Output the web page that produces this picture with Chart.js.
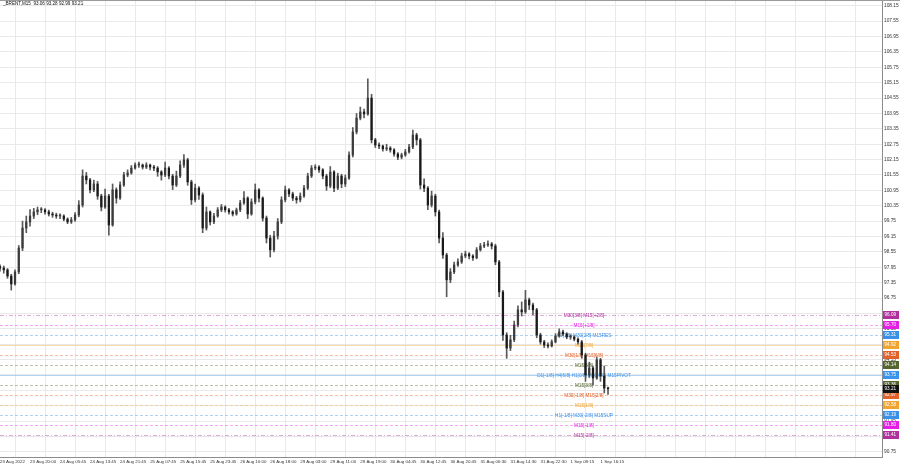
<!DOCTYPE html>
<html>
<head>
<meta charset="utf-8">
<script src="https://cdn.jsdelivr.net/npm/chart.js@4.4.0/dist/chart.umd.min.js"></script>
<style>
  html, body { margin: 0; padding: 0; background: #fff; }
</style>
</head>
<body>
<canvas id="chart" width="900" height="468"></canvas>
<script>
// _BRENT M15 candles, one candle here ~ one hour of the original chart
const symbolTitle = '_BRENT,M15  93.06 93.28 92.99 93.21';

const timeLabels = [
    '23 Aug 2022', '23 Aug 20:00', '24 Aug 05:45', '24 Aug 13:45', '24 Aug 21:45',
    '25 Aug 07:45', '25 Aug 15:45', '25 Aug 23:45', '26 Aug 10:00', '26 Aug 18:00',
    '29 Aug 03:00', '29 Aug 11:00', '29 Aug 19:00', '30 Aug 04:45', '30 Aug 12:45',
    '30 Aug 20:45', '31 Aug 06:30', '31 Aug 14:30', '31 Aug 22:30', '1 Sep 08:15', '1 Sep 16:15'
];

const priceTicks = [
    108.15, 107.55, 106.95, 106.35, 105.75, 105.15, 104.55, 103.95, 103.35, 102.75,
    102.15, 101.55, 100.95, 100.35, 99.75, 99.15, 98.55, 97.95, 97.35, 96.75,
    96.15, 95.55, 94.95, 94.35, 93.75, 93.15, 92.55, 91.95, 91.35, 90.75
];

const firstOpen = 97.98;
const closes = [
    97.92, 97.85, 97.61, 97.30, 97.77, 98.70, 99.48, 99.72, 99.95, 100.11,
    100.19, 100.19, 100.11, 100.03, 99.99, 99.95, 99.95, 99.83, 99.72, 99.80,
    99.99, 100.38, 101.51, 101.36, 100.97, 101.20, 100.73, 100.30, 100.73, 99.60,
    100.97, 100.65, 101.16, 101.55, 101.63, 101.82, 101.94, 101.94, 101.86, 101.94,
    101.86, 101.82, 101.67, 101.55, 101.82, 101.51, 101.16, 101.51, 101.94, 102.14,
    101.28, 100.58, 101.04, 100.77, 99.48, 100.11, 99.72, 99.95, 100.19, 100.30,
    100.19, 100.11, 100.03, 100.19, 100.46, 100.65, 100.03, 100.50, 100.97, 100.65,
    99.87, 99.09, 98.63, 99.17, 99.72, 100.58, 100.97, 100.81, 100.65, 100.58,
    100.73, 101.04, 101.51, 101.82, 101.86, 101.75, 101.51, 101.12, 101.67, 101.04,
    101.51, 101.20, 101.43, 102.33, 103.23, 103.77, 104.01, 103.93, 104.55, 102.92,
    102.72, 102.68, 102.57, 102.60, 102.53, 102.37, 102.25, 102.33, 102.45, 102.64,
    103.11, 102.92, 101.16, 101.04, 100.38, 100.73, 100.11, 99.09, 98.43, 97.46,
    97.77, 98.04, 98.16, 98.39, 98.47, 98.39, 98.32, 98.63, 98.78, 98.82,
    98.86, 98.78, 98.16, 96.99, 95.31, 94.80, 95.12, 95.70, 96.29, 96.21,
    96.68, 96.48, 96.29, 95.31, 95.04, 94.92, 94.88, 95.04, 95.27, 95.43,
    95.35, 95.23, 95.23, 95.15, 95.04, 94.53, 93.75, 94.02, 93.63, 94.34,
    93.71, 93.24, 93.21
];
const highs = [
    98.05, 98.00, 97.90, 97.68, 97.85, 98.80, 99.75, 99.95, 100.20, 100.25,
    100.30, 100.28, 100.24, 100.18, 100.10, 100.06, 100.04, 100.00, 99.88, 99.90,
    100.08, 100.55, 101.75, 101.65, 101.42, 101.35, 101.30, 100.80, 101.00, 100.80,
    101.20, 101.05, 101.28, 101.65, 101.75, 101.92, 102.02, 102.05, 101.98, 102.03,
    101.98, 101.93, 101.88, 101.72, 102.05, 101.88, 101.58, 101.70, 102.10, 102.35,
    102.20, 101.35, 101.20, 101.10, 100.85, 100.30, 100.15, 100.05, 100.28, 100.40,
    100.35, 100.25, 100.16, 100.26, 100.56, 100.90, 100.70, 100.62, 101.20, 101.02,
    100.70, 99.95, 99.20, 99.35, 99.85, 100.70, 101.12, 101.02, 100.88, 100.72,
    100.85, 101.15, 101.62, 101.92, 101.95, 101.92, 101.80, 101.58, 101.88, 101.72,
    101.62, 101.58, 101.55, 102.45, 103.40, 103.95, 104.20, 104.12, 105.30, 104.70,
    102.98, 102.80, 102.72, 102.75, 102.66, 102.58, 102.42, 102.40, 102.55, 102.75,
    103.30, 103.18, 102.98, 101.40, 101.10, 100.92, 100.80, 100.18, 99.30, 98.50,
    97.90, 98.15, 98.28, 98.50, 98.58, 98.52, 98.45, 98.72, 98.88, 98.92,
    98.98, 98.92, 98.85, 98.22, 97.05, 95.40, 95.30, 95.85, 96.45, 96.60,
    97.05, 96.75, 96.55, 96.35, 95.38, 95.10, 95.00, 95.12, 95.36, 95.55,
    95.50, 95.40, 95.32, 95.28, 95.20, 95.10, 94.60, 94.25, 94.10, 94.45,
    94.40, 94.10, 93.28
];
const lows = [
    97.80, 97.72, 97.52, 97.06, 97.25, 97.70, 98.60, 99.30, 99.55, 99.85,
    100.00, 100.08, 100.02, 99.95, 99.90, 99.86, 99.85, 99.76, 99.65, 99.66,
    99.74, 99.92, 100.30, 101.20, 100.85, 100.90, 100.60, 100.15, 100.25, 99.20,
    99.55, 100.45, 100.60, 101.10, 101.48, 101.58, 101.78, 101.85, 101.78, 101.80,
    101.75, 101.72, 101.50, 101.35, 101.48, 101.40, 100.98, 101.10, 101.45, 101.85,
    101.15, 100.40, 100.50, 100.60, 99.30, 99.40, 99.60, 99.65, 99.90, 100.12,
    100.10, 100.02, 99.95, 99.98, 100.12, 100.40, 99.85, 99.98, 100.42, 100.50,
    99.75, 98.90, 98.35, 98.55, 99.05, 99.65, 100.50, 100.70, 100.55, 100.45,
    100.50, 100.68, 100.98, 101.45, 101.75, 101.65, 101.40, 100.95, 101.05, 100.90,
    100.98, 101.05, 101.10, 101.38, 102.25, 103.15, 103.70, 103.78, 103.88, 102.80,
    102.62, 102.58, 102.48, 102.50, 102.44, 102.28, 102.15, 102.18, 102.28, 102.40,
    102.58, 102.72, 101.00, 100.90, 100.20, 100.30, 99.95, 98.90, 98.30, 96.80,
    97.35, 97.70, 97.98, 98.10, 98.32, 98.28, 98.22, 98.28, 98.58, 98.72,
    98.76, 98.66, 98.05, 96.80, 95.10, 94.40, 94.70, 95.05, 95.62, 96.05,
    96.15, 96.30, 96.10, 95.20, 94.95, 94.82, 94.80, 94.84, 95.00, 95.22,
    95.28, 95.16, 95.14, 95.08, 94.95, 94.40, 93.50, 93.65, 93.35, 93.58,
    93.50, 93.05, 92.99
];
const lastPrice = 93.21;

// Murrey math levels drawn by the indicator
const levelPrices = [96.09, 95.70, 95.31, 94.92, 94.53, 94.14, 93.75, 93.36, 92.97, 92.58, 92.19, 91.80, 91.41];
const levelNames = [
    'M30[3/8] M15[+2/8]',
    'M15[+1/8]',
    'H1[1/8] M30[2/8] M15RES',
    'M15[7/8]',
    'M30[1/8] M15[6/8]',
    'M15[5/8]',
    'D1[-1/8] H4[6/8] H1[0/8] M30[0/8] M15PIVOT',
    'M15[3/8]',
    'M30[-1/8] M15[2/8]',
    'M15[1/8]',
    'H1[-1/8] M30[-2/8] M15SUP',
    'M15[-1/8]',
    'M15[-2/8]'
];
const levelColors = ['#b0309e', '#e41ee4', '#3a90e6', '#f2a430', '#e4622a', '#55652f', '#3a93ec',
    '#55652f', '#e4622a', '#f2a430', '#3a90e6', '#e41ee4', '#b0309e'];
const levelDash = [[4, 2, 1, 2], [3, 2], [3, 2], [], [3, 2], [3, 2], [], [3, 2], [3, 2], [3, 2], [3, 2], [3, 2], [4, 2, 1, 2]];

const FONT = "'Liberation Sans', Arial, sans-serif";
const BARS_PER_LABEL = 8;

const opens = closes.map((c, i) => i === 0 ? firstOpen : closes[i - 1]);
const wickData = closes.map((c, i) => ({ x: i, y: [lows[i], highs[i]] }));
const bodyData = closes.map((c, i) => ({ x: i, y: [opens[i], c] }));
const bodyColors = closes.map((c, i) => c >= opens[i] ? '#3c3c3c' : '#1a1a1a');

const levelsPlugin = {
    id: 'levels',
    beforeDatasetsDraw(chart) {
        const { ctx, chartArea } = chart;
        const y = chart.scales.y;
        ctx.save();
        levelPrices.forEach((p, i) => {
            const py = Math.round(y.getPixelForValue(p)) + 0.5;
            ctx.globalAlpha = 0.4;
            ctx.strokeStyle = levelColors[i];
            ctx.lineWidth = 1;
            ctx.setLineDash(levelDash[i]);
            ctx.beginPath();
            ctx.moveTo(chartArea.left, py);
            ctx.lineTo(chartArea.right, py);
            ctx.stroke();
            ctx.globalAlpha = 1;
            ctx.fillStyle = levelColors[i];
            ctx.font = '4.7px ' + FONT;
            ctx.textAlign = 'center';
            ctx.textBaseline = 'middle';
            ctx.fillText(levelNames[i], 584, py);
        });
        ctx.setLineDash([]);
        ctx.fillStyle = '#111';
        ctx.font = '4.6px ' + FONT;
        ctx.textAlign = 'left';
        ctx.textBaseline = 'middle';
        ctx.fillText(symbolTitle, 3, 4);
        ctx.restore();
    },
    afterDraw(chart) {
        const { ctx, chartArea } = chart;
        const y = chart.scales.y;
        ctx.save();
        const drawBox = (p, color) => {
            const py = Math.round(y.getPixelForValue(p));
            ctx.fillStyle = color;
            ctx.fillRect(chartArea.right + 1, py - 4, 16, 8);
            ctx.fillStyle = '#fff';
            ctx.font = '4.6px ' + FONT;
            ctx.textAlign = 'left';
            ctx.textBaseline = 'middle';
            ctx.fillText(p.toFixed(2), chartArea.right + 2.5, py);
        };
        levelPrices.forEach((p, i) => drawBox(p, levelColors[i]));
        drawBox(lastPrice, '#111');
        // top border of the window
        ctx.strokeStyle = '#9a9a9a';
        ctx.beginPath();
        ctx.moveTo(0, 0.5);
        ctx.lineTo(chart.width, 0.5);
        ctx.stroke();
        ctx.restore();
    }
};

const ctx = document.getElementById('chart').getContext('2d');
new Chart(ctx, {
    type: 'bar',
    data: {
        datasets: [
            {
                data: wickData,
                backgroundColor: '#5a5a5a',
                barThickness: 1,
                grouped: false,
                order: 2
            },
            {
                data: bodyData,
                backgroundColor: bodyColors,
                barThickness: 1.6,
                minBarLength: 1,
                grouped: false,
                order: 1
            }
        ]
    },
    options: {
        responsive: false,
        animation: false,
        devicePixelRatio: 1,
        layout: { padding: 0 },
        plugins: {
            legend: { display: false },
            tooltip: { enabled: false }
        },
        scales: {
            x: {
                type: 'linear',
                min: 0,
                max: 235,
                offset: false,
                afterBuildTicks: (scale) => {
                    const ticks = [];
                    for (let v = 0; v <= 232; v += BARS_PER_LABEL) ticks.push({ value: v });
                    scale.ticks = ticks;
                },
                afterFit: (scale) => {
                    scale.height = 11;
                    scale.paddingLeft = 0;
                    scale.paddingRight = 0;
                },
                ticks: {
                    autoSkip: false,
                    maxRotation: 0,
                    align: 'start',
                    padding: 2,
                    color: '#333',
                    font: { family: FONT, size: 4.4 },
                    callback: (v) => timeLabels[v / BARS_PER_LABEL] || ''
                },
                grid: { color: '#e9e9e9', drawTicks: false },
                border: { color: '#8c8c8c' }
            },
            y: {
                position: 'right',
                min: 90.55,
                max: 108.376,
                afterBuildTicks: (scale) => {
                    scale.ticks = priceTicks.map(v => ({ value: v }));
                },
                afterFit: (scale) => {
                    scale.width = 18;
                    scale.paddingTop = 0;
                    scale.paddingBottom = 0;
                },
                ticks: {
                    padding: 2,
                    color: '#333',
                    font: { family: FONT, size: 4.8 },
                    callback: (v) => v.toFixed(2)
                },
                grid: { color: '#e9e9e9', drawTicks: false },
                border: { color: '#8c8c8c' }
            }
        }
    },
    plugins: [levelsPlugin]
});
</script>
</body>
</html>
